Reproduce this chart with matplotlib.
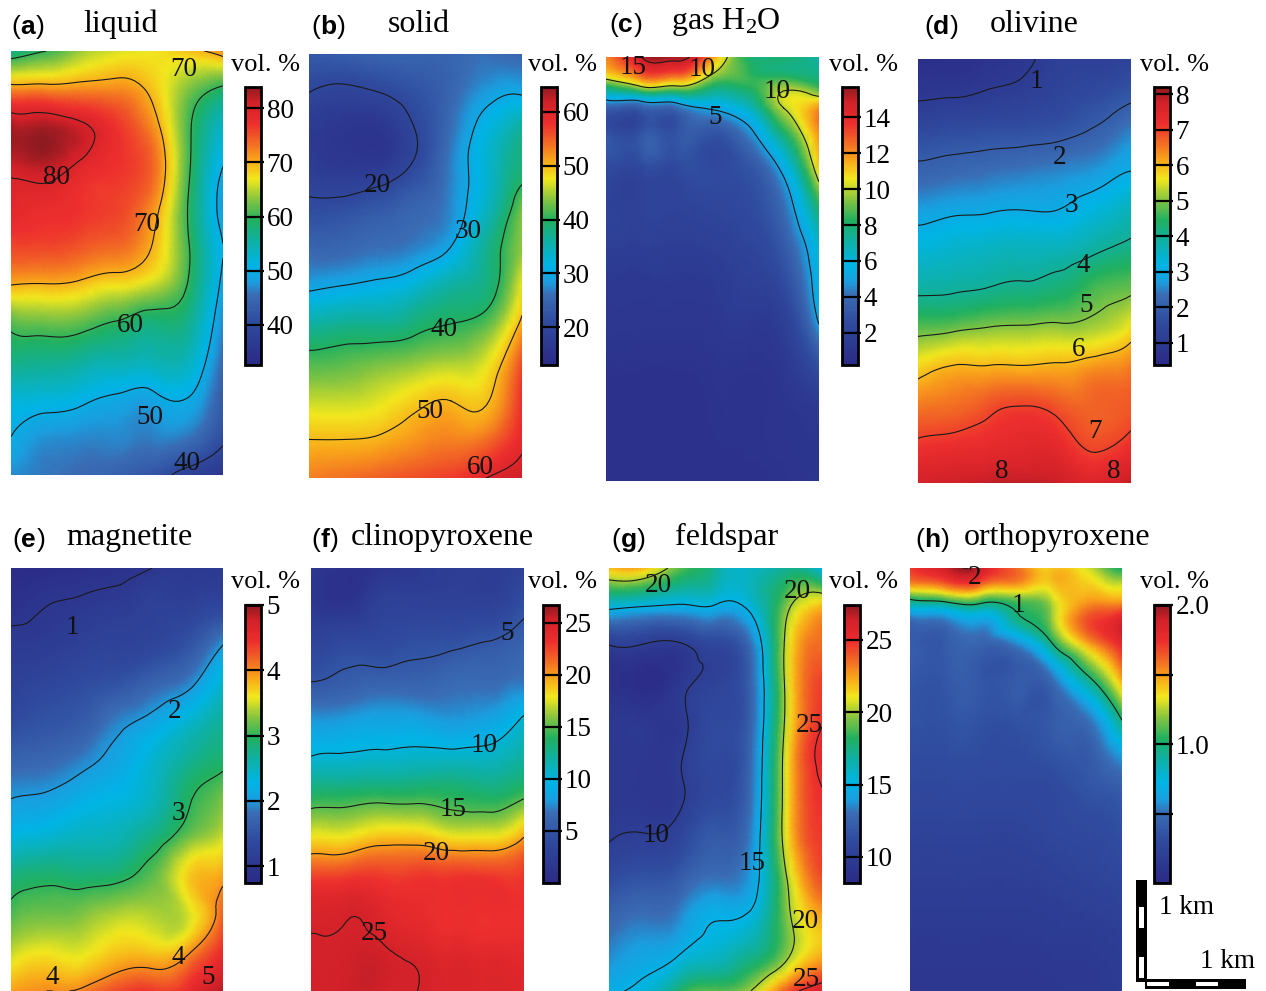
import numpy as np
import matplotlib
matplotlib.use("Agg")
import matplotlib.pyplot as plt
import matplotlib.tri as mtri
from matplotlib.cm import ScalarMappable
from matplotlib.colors import LinearSegmentedColormap, Normalize
from matplotlib.patches import Rectangle

W, H = 1266, 991
plt.rcParams['font.family'] = ['Liberation Serif', 'DejaVu Serif']
plt.rcParams['mathtext.default'] = 'regular'

liquid = [
    [57, 60, 64, 66, 67, 69, 72],
    [72, 72, 72, 72, 69, 63, 59],
    [83, 83, 81, 77, 72, 61, 53],
    [81, 82, 79, 77, 74, 61, 50],
    [79, 78, 77, 76, 72, 60, 48],
    [76, 76, 75, 74, 70, 60.5, 50],
    [70.6, 70.3, 69.5, 68, 66, 60, 49],
    [61.5, 62.5, 62, 60, 58, 57, 47],
    [57.5, 57, 56, 55, 54.5, 54, 45],
    [52, 52, 51, 49.5, 49, 50, 43],
    [50, 47.5, 47, 47, 46.5, 46, 41],
    [47, 46, 45, 44, 42, 38, 36],
]
solid = [
    [23, 24, 25, 25, 25, 26, 25],
    [20, 19, 20, 22, 25, 28.5, 29.5],
    [17, 16, 16, 20, 26, 32, 37],
    [18, 17, 17.5, 21, 27, 33, 38.5],
    [21, 21.5, 23, 25, 27.5, 34, 43],
    [25, 25, 26, 27, 30, 37, 44],
    [29, 30, 31, 33, 36, 38, 47.5],
    [36, 37, 37, 38.5, 40, 42, 51],
    [41.5, 42, 43, 44, 45, 47, 56],
    [46, 46, 47, 49, 50, 49.7, 58],
    [50, 50, 50.5, 52, 53, 54, 59],
    [53, 54, 55, 56, 57, 60, 62],
]
gas_h2o = [
    [12, 15, 15.5, 12, 8, 8, 7],
    [11, 13, 13, 10, 8.5, 8, 7.5],
    [7, 8.5, 8.5, 7.5, 8, 10, 9],
    [3.5, 3.5, 4, 5.2, 6.5, 10, 12],
    [3, 3, 3, 3, 4.5, 8, 12],
    [2.5, 2.5, 2.5, 2.5, 3, 5.5, 11],
    [2, 2, 2, 2.2, 2.5, 4, 8],
    [1.5, 1.5, 1.5, 1.6, 2, 3, 6],
    [1.2, 1.2, 1.2, 1.3, 1.5, 2, 5.5],
    [0.9, 0.9, 0.9, 1, 1, 1.3, 3],
    [0.8, 0.8, 0.8, 0.9, 0.9, 1, 1.3],
    [0.7, 0.7, 0.7, 0.7, 0.8, 0.9, 1.1],
]
olivine = [
    [0.6, 0.6, 0.75, 0.9, 1.2, 1.2, 1.3],
    [0.95, 1, 1.1, 1.2, 1.4, 1.6, 1.9],
    [1.6, 1.7, 1.75, 1.8, 1.9, 2.15, 2.6],
    [2.2, 2.3, 2.4, 2.5, 2.6, 2.75, 3.05],
    [2.8, 2.95, 3.0, 3.05, 3.05, 3.35, 3.7],
    [3.4, 3.5, 3.6, 3.65, 3.7, 3.95, 4.2],
    [3.9, 3.95, 4.05, 4.15, 4.3, 4.7, 4.9],
    [4.8, 4.9, 5.05, 5.1, 5.15, 5.25, 5.7],
    [5.75, 6.05, 6.05, 6.05, 6.1, 6.3, 6.5],
    [6.5, 6.6, 6.85, 7, 6.8, 6.7, 6.8],
    [7.1, 7.2, 7.3, 7.4, 7.3, 6.9, 7.2],
    [7.7, 7.8, 7.9, 7.9, 7.8, 7.6, 7.9],
]
magnetite = [
    [0.8, 0.8, 0.85, 0.9, 1.0, 1.05, 1.1],
    [0.9, 1, 1.05, 1.1, 1.2, 1.2, 1.3],
    [1.1, 1.1, 1.2, 1.25, 1.3, 1.5, 2],
    [1.2, 1.3, 1.4, 1.5, 1.7, 1.9, 2.4],
    [1.4, 1.5, 1.6, 1.9, 2.1, 2.4, 2.7],
    [1.7, 1.75, 1.9, 2.1, 2.4, 2.7, 2.9],
    [2, 2.05, 2.2, 2.3, 2.5, 2.95, 3.25],
    [2.3, 2.4, 2.5, 2.55, 2.8, 3.2, 3.5],
    [2.8, 2.9, 2.85, 2.9, 3.15, 3.7, 3.9],
    [3.1, 3.2, 3.25, 3.4, 3.4, 3.5, 4.2],
    [3.45, 3.6, 3.55, 3.75, 3.75, 3.95, 4.5],
    [3.9, 4, 4.05, 4.3, 4.4, 4.5, 4.9],
]
clinopyroxene = [
    [2, 1, 1.5, 2, 2.5, 2.5, 3],
    [2, 1.5, 3, 3, 3, 3, 4.5],
    [3.5, 4, 4, 4.5, 4.7, 5.2, 6],
    [5.1, 5.6, 6, 6, 6.5, 6.5, 7],
    [8, 8.2, 8.5, 8.5, 8, 8.5, 10.5],
    [10.3, 10.5, 10.7, 10.9, 11, 11, 12],
    [14, 14.2, 14.5, 14.5, 14.2, 13.8, 15],
    [18, 18, 19, 19, 18, 18, 20],
    [22.5, 22.7, 22.8, 22.9, 22.9, 22.9, 23.0],
    [24.7, 24.9, 24.3, 23.7, 23.3, 23.2, 23.3],
    [25.1, 25.2, 25.2, 24.7, 24.2, 24, 24],
    [25.2, 25.3, 25.2, 25.0, 24.6, 24.5, 24.5],
]
feldspar = [
    [22, 22, 19, 17, 16, 17, 15],
    [15.5, 15, 14.7, 14.8, 15.5, 19.5, 22],
    [10, 9.9, 9.8, 10.8, 13, 20.5, 23.5],
    [9, 8.5, 9.5, 10.5, 12.5, 20.5, 24.5],
    [9.5, 9.5, 9.6, 11, 12.5, 20.5, 24.9],
    [9.5, 9.5, 9.9, 11, 12.8, 21, 25.3],
    [9.5, 9.5, 9.8, 11, 13, 21, 24.9],
    [9.9, 10.1, 10.7, 12, 13.5, 21, 24.6],
    [11, 11.5, 12, 13, 14, 20, 24.3],
    [12.5, 13, 13.5, 14.8, 15.2, 19.5, 22.5],
    [13.5, 14.2, 14.9, 15.8, 17, 19.5, 22],
    [14.8, 15.5, 18, 19, 20, 24, 26],
]
orthopyroxene = [
    [1.7, 1.9, 1.9, 1.6, 1.4, 1.3, 1.0],
    [1.5, 1.6, 1.6, 1.5, 1.4, 1.4, 1.3],
    [0.92, 1, 1.05, 1.1, 1.25, 1.5, 1.5],
    [0.5, 0.55, 0.65, 0.95, 1.2, 1.65, 1.85],
    [0.42, 0.4, 0.45, 0.55, 0.97, 1.45, 1.8],
    [0.38, 0.38, 0.38, 0.4, 0.5, 0.95, 1.5],
    [0.35, 0.35, 0.35, 0.35, 0.4, 0.5, 1.0],
    [0.3, 0.3, 0.3, 0.3, 0.32, 0.38, 0.5],
    [0.25, 0.25, 0.25, 0.25, 0.28, 0.3, 0.35],
    [0.2, 0.2, 0.2, 0.2, 0.22, 0.25, 0.28],
    [0.16, 0.16, 0.16, 0.16, 0.17, 0.18, 0.2],
    [0.12, 0.12, 0.12, 0.12, 0.13, 0.14, 0.16],
]

UNIFORM = np.linspace(0, 1, 12)
TOPFINE = np.array([0, .04, .08, .12, .18, .26, .36, .48, .6, .72, .84, 1])

cmap = LinearSegmentedColormap.from_list('v', [
    (0.00, '#2b2a86'), (0.15, '#2f4a9e'), (0.25, '#3a6cb4'), (0.30, '#1a9fe0'),
    (0.36, '#00b4e6'), (0.45, '#10b0a0'), (0.52, '#20b060'), (0.60, '#8cc63f'),
    (0.67, '#f2e81d'), (0.74, '#f9a51a'), (0.80, '#f26a24'), (0.87, '#ed2e2e'),
    (0.95, '#d02028'), (1.00, '#8f1a20')])

panels = [
    dict(tag='a', title='liquid', tx=83, lx=11, ty=24, z=liquid, rows=UNIFORM, box=(11, 51, 223, 475),
         cb=(245, 87, 365), lim=(32.6, 83.9), ticks=[40, 50, 60, 70, 80], tl=None, levels=[40, 50, 60, 70, 80], vx=231, vy=65,
         labels=[('70', 184, 69), ('80', 56, 177), ('70', 147, 225), ('60', 130, 326), ('50', 150, 417), ('40', 187, 463)]),
    dict(tag='b', title='solid', tx=388, lx=311, ty=24, z=solid, rows=UNIFORM, box=(309, 54, 522, 478),
         cb=(541, 87, 365), lim=(13, 64.6), ticks=[20, 30, 40, 50, 60], tl=None, levels=[20, 30, 40, 50, 60], vx=528, vy=65,
         labels=[('20', 377, 186), ('30', 468, 232), ('40', 444, 330), ('50', 430, 412), ('60', 480, 468)]),
    dict(tag='c', title='gas H$_2$O', tx=671, lx=609, ty=22, z=gas_h2o, rows=TOPFINE, box=(606, 57, 819, 481),
         cb=(842, 87, 365), lim=(0.2, 15.7), ticks=[2, 4, 6, 8, 10, 12, 14], tl=None, levels=[5, 10, 15], vx=829, vy=65,
         labels=[('15', 633, 67), ('10', 702, 69), ('10', 777, 92), ('5', 715, 117)]),
    dict(tag='d', title='olivine', tx=990, lx=924, ty=24, z=olivine, rows=UNIFORM, box=(918, 59, 1131, 483),
         cb=(1154, 87, 365), lim=(0.38, 8.2), ticks=[1, 2, 3, 4, 5, 6, 7, 8], tl=None, levels=[1, 2, 3, 4, 5, 6, 7], vx=1140, vy=65,
         labels=[('1', 1036, 82), ('2', 1060, 157), ('3', 1071, 205), ('4', 1083, 266), ('5', 1086, 306), ('6', 1079, 349),
                 ('7', 1095, 431), ('8', 1002, 471), ('8', 1114, 471)]),
    dict(tag='e', title='magnetite', tx=66, lx=12, ty=537, z=magnetite, rows=UNIFORM, box=(11, 568, 223, 991),
         cb=(245, 605, 883), lim=(0.74, 5), ticks=[1, 2, 3, 4, 5], tl=None, levels=[1, 2, 3, 4], vx=231, vy=582,
         labels=[('1', 72, 627), ('2', 175, 712), ('3', 178, 813), ('4', 178, 957), ('4', 52, 978), ('5', 208, 977)]),
    dict(tag='f', title='clinopyroxene', tx=351, lx=311, ty=537, z=clinopyroxene, rows=UNIFORM, box=(311, 568, 524, 991),
         cb=(543, 605, 883), lim=(0, 26.7), ticks=[5, 10, 15, 20, 25], tl=None, levels=[5, 10, 15, 20, 25], vx=528, vy=582,
         labels=[('5', 507, 634), ('10', 484, 745), ('15', 453, 810), ('20', 436, 854), ('25', 374, 933)]),
    dict(tag='g', title='feldspar', tx=675, lx=611, ty=537, z=feldspar, rows=UNIFORM, box=(609, 568, 822, 991),
         cb=(844, 605, 883), lim=(8.2, 27.4), ticks=[10, 15, 20, 25], tl=None, levels=[10, 15, 20, 25], vx=829, vy=582,
         labels=[('20', 658, 586), ('20', 797, 592), ('25', 809, 725), ('10', 656, 836), ('15', 752, 863), ('20', 805, 922), ('25', 806, 979)]),
    dict(tag='h', title='orthopyroxene', tx=964, lx=915, ty=537, z=orthopyroxene, rows=TOPFINE, box=(910, 568, 1122, 991),
         cb=(1154, 605, 883), lim=(0, 2), ticks=[0.5, 1, 1.5, 2], tl=['', '1.0', '', '2.0'], levels=[1, 2], vx=1140, vy=582,
         labels=[('2', 975, 578), ('1', 1018, 605)]),
]

fig = plt.figure(figsize=(W / 100, H / 100), dpi=100, facecolor='white')


def axes_px(x0, y0, x1, y1, **kw):
    return fig.add_axes([x0 / W, 1 - y1 / H, (x1 - x0) / W, (y1 - y0) / H], **kw)


def ftext(x, y, s, **kw):
    kw.setdefault('va', 'center')
    return fig.text(x / W, 1 - y / H, s, **kw)


renderer = fig.canvas.get_renderer()
for p in panels:
    x0, y0, x1, y1 = p['box']
    ax = axes_px(x0, y0, x1, y1)
    z = np.array(p['z'], dtype=float)
    xs = np.linspace(0, 1, z.shape[1])
    X, Y = np.meshgrid(xs, p['rows'])
    tri = mtri.Triangulation(X.ravel(), Y.ravel())
    rtri, rz = mtri.UniformTriRefiner(tri).refine_field(z.ravel(), subdiv=3)
    norm = Normalize(*p['lim'])
    ax.tripcolor(rtri, rz, shading='gouraud', cmap=cmap, norm=norm)
    ax.tricontour(rtri, rz, levels=p['levels'], colors='#1a1a1a', linewidths=0.8)
    ax.set_xlim(0, 1)
    ax.set_ylim(1, 0)
    ax.axis('off')

    # panel tag: bold letter between regular parentheses
    cx = p['lx']
    for s, w in (('(', 'normal'), (p['tag'], 'bold'), (')', 'normal')):
        t = ftext(cx, p['ty'] + 3, s, fontsize=19, weight=w, family=['Liberation Sans'], ha='left')
        cx += t.get_window_extent(renderer).width + 0.5
    ftext(p['tx'], p['ty'], p['title'], fontsize=23, ha='left')
    ftext(p['vx'], p['vy'], 'vol. %', fontsize=19, ha='left')
    for s, lx_, ly_ in p['labels']:
        ftext(lx_, ly_, s, fontsize=19.5, ha='center', color='#111111')

    cx0, cy0, cy1 = p['cb']
    cax = axes_px(cx0, cy0, cx0 + 16, cy1)
    cb = fig.colorbar(ScalarMappable(norm=norm, cmap=cmap), cax=cax)
    cb.outline.set_linewidth(2.0)
    cb.set_ticks(p['ticks'])
    cb.set_ticklabels(p['tl'] if p['tl'] else [str(v) for v in p['ticks']])
    cax.tick_params(length=0, pad=4, labelsize=19.5)
    cax.hlines(p['ticks'], 0, 1.2, colors='black', linewidth=1.6, clip_on=False)

# scale bars
ov = fig.add_axes([0, 0, 1, 1], facecolor='none')
ov.set_xlim(0, W)
ov.set_ylim(H, 0)
ov.axis('off')
ov.add_patch(Rectangle((1136, 880), 11, 102, fc='black', ec='none'))
ov.add_patch(Rectangle((1145, 979), 101, 10, fc='black', ec='none'))
for yy in (907, 957):
    ov.add_patch(Rectangle((1139, yy), 5, 21, fc='white', ec='none'))
for xx in (1147, 1196):
    ov.add_patch(Rectangle((xx, 982), 22, 4, fc='white', ec='none'))
ftext(1159, 908, '1 km', fontsize=19.5, ha='left')
ftext(1200, 961, '1 km', fontsize=19.5, ha='left')

fig.savefig('out.png', dpi=100)
